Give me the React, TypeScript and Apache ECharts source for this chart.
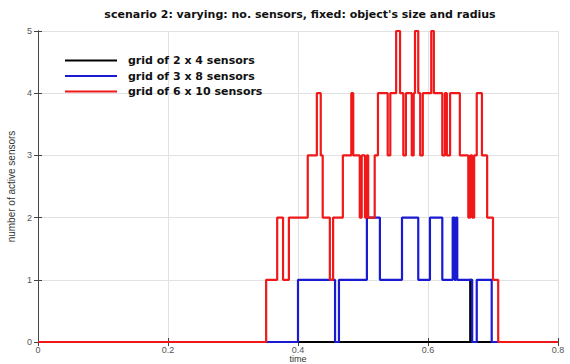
import React, { useEffect, useRef } from "react";
import * as echarts from "echarts";

const titleText = "scenario 2: varying: no. sensors, fixed: object's size and radius";
const xTicks = [0, 0.2, 0.4, 0.6, 0.8];
const yTicks = [0, 1, 2, 3, 4, 5];
const seriesNames = ["grid of 2 x 4 sensors", "grid of 3 x 8 sensors", "grid of 6 x 10 sensors"];

// step change points: at time t the count becomes v
const blackT = [0, 0.665, 0.667, 0.8];
const blackV = [0, 1, 0, 0];

const blueT = [0, 0.4, 0.457, 0.463, 0.506, 0.526, 0.56, 0.585, 0.603, 0.622, 0.638, 0.641, 0.643, 0.645, 0.668, 0.675, 0.698, 0.8];
const blueV = [0, 1, 0, 1, 2, 1, 2, 1, 2, 1, 2, 1, 2, 1, 0, 1, 0, 0];

const redT = [
  0, 0.351, 0.368, 0.377, 0.386, 0.415, 0.429, 0.435, 0.438, 0.449,
  0.454, 0.469, 0.482, 0.485, 0.495, 0.498, 0.503, 0.506, 0.508, 0.518,
  0.523, 0.538, 0.542, 0.551, 0.557, 0.562, 0.566, 0.575, 0.578, 0.58,
  0.585, 0.588, 0.592, 0.605, 0.609, 0.622, 0.626, 0.629, 0.634, 0.649,
  0.662, 0.665, 0.668, 0.671, 0.675, 0.683, 0.691, 0.7, 0.708, 0.8,
];
const redV = [
  0, 1, 2, 1, 2, 3, 4, 3, 2, 1,
  2, 3, 4, 3, 2, 3, 2, 3, 2, 3,
  4, 3, 4, 5, 4, 3, 4, 3, 4, 5,
  4, 3, 4, 5, 4, 3, 4, 3, 4, 3,
  2, 3, 2, 3, 4, 3, 2, 1, 0, 0,
];

const colors = ["#000000", "#1a1ad2", "#f01818"];

const zip = (t: number[], v: number[]) => t.map((x, i) => [x, v[i]]);

export default function App() {
  const ref = useRef<HTMLDivElement>(null);
  useEffect(() => {
    document.body.style.margin = "0";
    const chart = echarts.init(ref.current!, null, { renderer: "svg" });
    const font = "Liberation Sans";
    const boldFont = "DejaVu Sans";
    const tickStyle = { show: true, inside: true, length: 4, lineStyle: { color: "#444", width: 1 } };
    const lineStyleAxis = { show: true, lineStyle: { color: "#444", width: 1 } };
    const mkSeries = (name: string, t: number[], v: number[], color: string) => ({
      name,
      type: "line",
      step: "end",
      data: zip(t, v),
      showSymbol: false,
      symbol: "none",
      lineStyle: { color, width: 2.2 },
      itemStyle: { color },
      xAxisIndex: 0,
      yAxisIndex: 0,
    });
    chart.setOption({
      animation: false,
      backgroundColor: "#ffffff",
      textStyle: { fontFamily: font },
      title: {
        text: titleText,
        left: 300,
        textAlign: "center",
        top: 9,
        padding: 0,
        textStyle: { fontSize: 11, fontWeight: "bold", color: "#111", fontFamily: boldFont },
      },
      legend: {
        orient: "vertical",
        left: 65,
        top: 55,
        padding: 0,
        icon: "rect",
        itemWidth: 52,
        itemHeight: 2,
        itemGap: 4.5,
        data: seriesNames,
        textStyle: { fontSize: 11, fontWeight: "bold", color: "#111", fontFamily: boldFont, padding: [0, 0, 0, 6] },
      },
      grid: { left: 38, right: 12, top: 31, bottom: 22, containLabel: false, outerBoundsMode: "none" },
      xAxis: [
        {
          type: "value",
          min: xTicks[0],
          max: xTicks[xTicks.length - 1],
          interval: 0.2,
          name: "time",
          nameLocation: "middle",
          nameGap: 12,
          nameMoveOverlap: false,
          nameTextStyle: { fontSize: 9, color: "#333", fontFamily: font, verticalAlign: "top" },
          axisLine: lineStyleAxis,
          axisTick: tickStyle,
          axisLabel: { fontSize: 9, color: "#555", margin: 3, fontFamily: font },
          splitLine: { show: true, lineStyle: { color: "#e2e2e2", width: 1 } },
        },
        {
          type: "value",
          position: "top",
          min: xTicks[0],
          max: xTicks[xTicks.length - 1],
          interval: 0.2,
          axisLine: lineStyleAxis,
          axisTick: tickStyle,
          axisLabel: { show: false },
          splitLine: { show: false },
        },
      ],
      yAxis: [
        {
          type: "value",
          min: yTicks[0],
          max: yTicks[yTicks.length - 1],
          interval: 1,
          name: "number of active sensors",
          nameLocation: "middle",
          nameGap: 20,
          nameRotate: 90,
          nameTextStyle: { fontSize: 10, color: "#333", fontFamily: font },
          axisLine: lineStyleAxis,
          axisTick: tickStyle,
          axisLabel: { fontSize: 9, color: "#555", margin: 6, fontFamily: font },
          splitLine: { show: true, lineStyle: { color: "#e2e2e2", width: 1 } },
        },
        {
          type: "value",
          position: "right",
          min: yTicks[0],
          max: yTicks[yTicks.length - 1],
          interval: 1,
          axisLine: lineStyleAxis,
          axisTick: tickStyle,
          axisLabel: { show: false },
          splitLine: { show: false },
        },
      ],
      series: [
        mkSeries(seriesNames[0], blackT, blackV, colors[0]),
        mkSeries(seriesNames[1], blueT, blueV, colors[1]),
        mkSeries(seriesNames[2], redT, redV, colors[2]),
      ],
    });
    return () => chart.dispose();
  }, []);
  return <div ref={ref} style={{ width: 570, height: 364, position: "absolute", left: 0, top: 0 }} />;
}
